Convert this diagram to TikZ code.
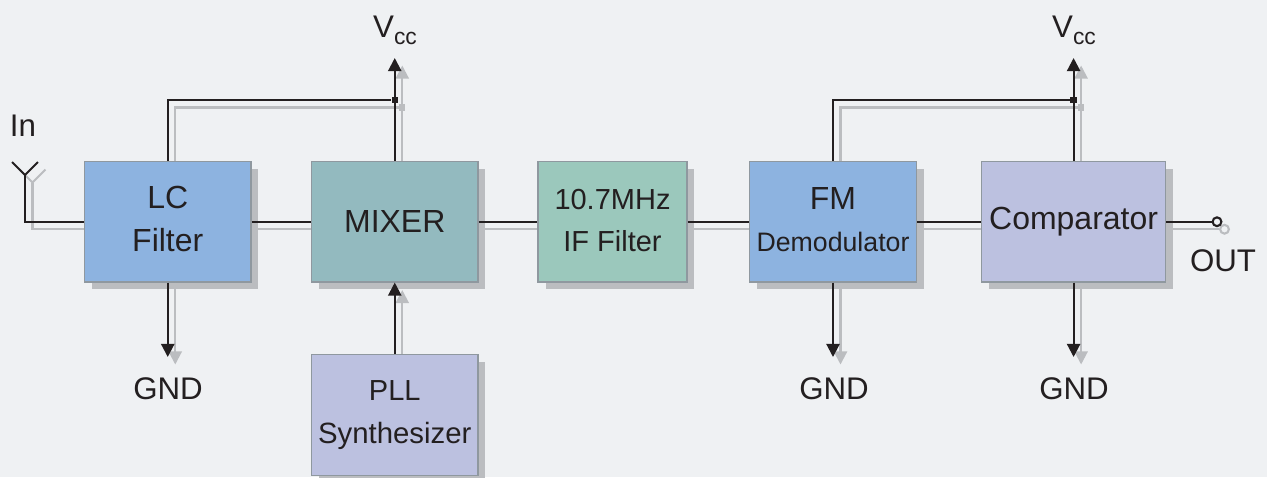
\documentclass[tikz,border=0pt]{standalone}
\usepackage{fontspec}
\setmainfont{Liberation Sans}
\usepackage{tikz}
\usetikzlibrary{arrows.meta,shadows}

\definecolor{pagebg}{HTML}{EFF1F3}
\definecolor{inkdark}{HTML}{231F20}
\definecolor{wireghost}{HTML}{BBBDC0}
\definecolor{boxline}{HTML}{8F989F}
\definecolor{bluebox}{HTML}{8DB3E0}
\definecolor{tealbox}{HTML}{93BABF}
\definecolor{greenbox}{HTML}{9BC8BC}
\definecolor{lilacbox}{HTML}{BCC1E0}

\tikzset{
  block/.style={draw=boxline,line width=0.6pt,minimum height=2.41cm,inner sep=0pt,text=inkdark,align=center,
    font=\fontsize{18.2}{24}\selectfont,
    drop shadow={shadow xshift=0.15cm,shadow yshift=-0.15cm,fill=wireghost,opacity=1}},
  lbl/.style={text=inkdark,inner sep=0pt,font=\fontsize{17.8}{20}\selectfont},
  wire/.style={line width=1.2pt},
  arrowed/.style={wire,-{Triangle[length=7.5pt,width=7.5pt]}},
  ghostwire/.style={color=wireghost},
  darkwire/.style={color=inkdark},
  junction/.style={fill,rectangle,inner sep=0pt,minimum size=3.6pt},
  terminal/.style={draw,circle,fill=pagebg,line width=1.2pt,inner sep=0pt,minimum size=5pt}
}
\newcommand{\vcclabel}{V{\fontsize{13}{13}\selectfont\raisebox{-4pt}{cc}}}
\newcommand{\liftline}[1]{\rule[-#1]{0pt}{#1}}

\begin{document}
\begin{tikzpicture}[x=0.02cm,y=-0.02cm]
\path[use as bounding box,fill=pagebg] (0,0) rectangle (1267,477);

% Blocks
\node[block,fill=bluebox,minimum width=3.33cm] (lc) at (167.75,221.75) {LC\\Filter\liftline{3.4pt}};
\node[block,fill=tealbox,minimum width=3.33cm] (mixer) at (394.75,221.75) {MIXER};
\node[block,fill=greenbox,minimum width=2.98cm] (iff) at (612.5,221.75) {\fontsize{16.5}{24}\selectfont 10.7MHz\\\fontsize{16.5}{24}\selectfont IF Filter\liftline{2pt}};
\node[block,fill=bluebox,minimum width=3.33cm] (fm) at (833,221.75) {FM\\\fontsize{15.2}{25}\selectfont Demodulator\liftline{3pt}};
\node[block,fill=lilacbox,minimum width=3.68cm] (comp) at (1073.6,221.75) {\raisebox{3pt}{Comparator}};
\node[block,fill=lilacbox,minimum width=3.33cm] (pll) at (394.75,415) {\fontsize{16.5}{24}\selectfont PLL\\\fontsize{16.7}{24}\selectfont Synthesizer\liftline{1pt}};

% Labels
\node[lbl] (in) at (23,126) {In};
\node[lbl] (vccA) at (395,30) {\vcclabel};
\node[lbl] (vccB) at (1074,30) {\vcclabel};
\node[lbl] (gndA) at (168,389) {GND};
\node[lbl] (gndB) at (834,389) {GND};
\node[lbl] (gndC) at (1074,389) {GND};
\node[lbl] (outl) at (1223,261) {OUT};

% Free ends
\coordinate (ant) at (25,175);
\coordinate (antL) at (12,162);
\coordinate (antR) at (38,162);
\coordinate (tipA) at (394.75,58);
\coordinate (tipB) at (1073.6,58);
\coordinate (tipC) at (167.75,357);
\coordinate (tipD) at (833,357);
\coordinate (tipE) at (1073.6,357);

% Wires, the pale copy first
\foreach \tone/\dx/\dy in {ghostwire/0.15cm/-0.15cm,darkwire/0cm/0cm} {
    \node[\tone,junction] (dotA\tone) at ([xshift=\dx,yshift=\dy]tipA |- 0,100) {};
    \node[\tone,junction] (dotB\tone) at ([xshift=\dx,yshift=\dy]tipB |- 0,100) {};
    \node[\tone,terminal] (out\tone) at ([xshift=\dx,yshift=\dy]1217,221.75) {};
    % Signal path
    \draw[\tone,wire] ([shift={(\dx,\dy)}]antL) -- ([shift={(\dx,\dy)}]ant) -- ([shift={(\dx,\dy)}]antR);
    \draw[\tone,wire] ([shift={(\dx,\dy)}]ant) |- ([yshift=\dy]lc.west);
    \foreach \a/\b in {lc/mixer,mixer/iff,iff/fm,fm/comp} {
        \draw[\tone,wire] ([yshift=\dy]\a.east) -- ([yshift=\dy]\b.west);
    }
    \draw[\tone,wire] ([yshift=\dy]comp.east) -- (out\tone);
    % Supply
    \draw[\tone,arrowed] ([xshift=\dx]mixer.north) -- ([shift={(\dx,\dy)}]tipA);
    \draw[\tone,arrowed] ([xshift=\dx]comp.north) -- ([shift={(\dx,\dy)}]tipB);
    \draw[\tone,wire] ([xshift=\dx]lc.north) |- (dotA\tone);
    \draw[\tone,wire] ([xshift=\dx]fm.north) |- (dotB\tone);
    % Ground
    \draw[\tone,arrowed] ([xshift=\dx]lc.south) -- ([shift={(\dx,\dy)}]tipC);
    \draw[\tone,arrowed] ([xshift=\dx]fm.south) -- ([shift={(\dx,\dy)}]tipD);
    \draw[\tone,arrowed] ([xshift=\dx]comp.south) -- ([shift={(\dx,\dy)}]tipE);
    % Synthesizer
    \draw[\tone,arrowed] ([xshift=\dx]pll.north) -- ([shift={(\dx,\dy)}]mixer.south);
}
\end{tikzpicture}
\end{document}
